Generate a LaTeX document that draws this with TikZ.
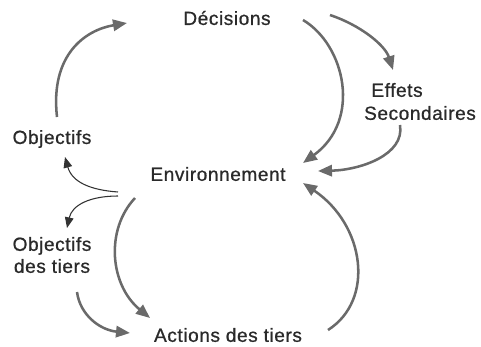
\documentclass[tikz,border=0pt]{standalone}
\usepackage{fontspec}
\setmainfont{Liberation Sans}[LetterSpace=3,FakeBold=0.8]
\usetikzlibrary{arrows.meta,calc}
\definecolor{txt}{HTML}{2A2A2A}
\definecolor{arr}{HTML}{6A6A6A}
\begin{document}
\begin{tikzpicture}[x=0.75pt,y=-0.75pt,
  lbl/.style={inner sep=0pt,text=txt,font=\fontsize{14.3}{16.5}\selectfont,align=center},
  big/.style={draw=arr,line width=1.9pt,-{Triangle[length=10.5pt,width=8.5pt]}},
  thin/.style={draw=black!80,line width=0.8pt,-{Triangle[length=8pt,width=6.5pt]}}]
\useasboundingbox (0,0) rectangle (481,346);
\node[lbl] (dec) at (227,18) {Décisions};
\node[lbl] (eff1) at (397,90) {Effets};
\node[lbl] (eff2) at (420,113) {Secondaires};
\node[lbl] (obj) at (52,139) {Objectifs};
\node[lbl] (env) at (218,174) {Environnement};
\node[lbl] (objt) at (52,255) {Objectifs\\des tiers};
\node[lbl] (act) at (228,335) {Actions des tiers};
% arrows
\draw[big] ($(obj)+(5,-22)$) .. controls (50,55) and (85,30) .. ($(dec)+(-100,5)$);
\draw[big] ($(dec)+(76,2)$) .. controls (345,45) and (362,120) .. ($(env)+(85,-11)$);
\draw[big] ($(dec)+(103,-3)$) .. controls (360,25) and (385,45) .. ($(eff1)+(-4,-20)$);
\draw[big] ($(eff2)+(-20,12)$) .. controls (405,155) and (360,170) .. ($(env)+(100,-3)$);
\draw[thin] ($(env)+(-100,18)$) .. controls (90,190) and (72,182) .. ($(obj)+(13,18)$);
\draw[thin] ($(env)+(-100,22)$) .. controls (90,196) and (72,205) .. ($(objt)+(15,-27)$);
\draw[big] ($(env)+(-83,24)$) .. controls (105,230) and (110,285) .. ($(act)+(-78,-17)$);
\draw[big] ($(objt)+(25,37)$) .. controls (80,315) and (100,330) .. ($(act)+(-98,-2)$);
\draw[big] ($(act)+(100,-5)$) .. controls (375,300) and (365,225) .. ($(env)+(85,9)$);
\end{tikzpicture}
\end{document}
